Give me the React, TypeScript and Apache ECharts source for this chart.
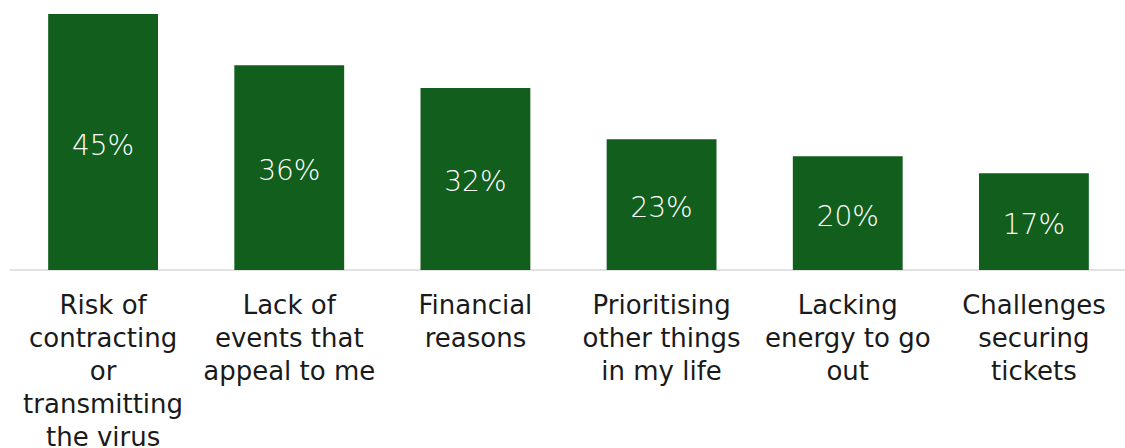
import React, { useEffect, useRef } from "react";
import * as echarts from "echarts";

const categories = [
  "Risk of contracting or transmitting the virus",
  "Lack of events that appeal to me",
  "Financial reasons",
  "Prioritising other things in my life",
  "Lacking energy to go out",
  "Challenges securing tickets",
];
const tickLabels = [
  "Risk of\ncontracting\nor\ntransmitting\nthe virus",
  "Lack of\nevents that\nappeal to me",
  "Financial\nreasons",
  "Prioritising\nother things\nin my life",
  "Lacking\nenergy to go\nout",
  "Challenges\nsecuring\ntickets",
];
const values = [45, 36, 32, 23, 20, 17];

export default function App() {
  const ref = useRef<HTMLDivElement>(null);
  useEffect(() => {
    if (!ref.current) return;
    const chart = echarts.init(ref.current, null, { renderer: "svg" });
    chart.setOption({
      animation: false,
      grid: {
        left: 10,
        width: 1117,
        top: 14,
        height: 256,
        containLabel: false,
        outerBoundsMode: "none",
      },
      xAxis: {
        type: "category",
        data: categories,
        axisLine: { lineStyle: { color: "#d9d9d9", width: 1.5 } },
        axisTick: { show: false },
        axisLabel: {
          interval: 0,
          margin: 18,
          color: "#1a1a1a",
          fontFamily: "DejaVu Sans",
          fontSize: 26,
          lineHeight: 33,
          formatter: (_v: string, i: number) => tickLabels[i],
        },
      },
      yAxis: {
        type: "value",
        min: 0,
        max: 45,
        show: false,
        splitLine: { show: false },
      },
      series: [
        {
          type: "bar",
          data: values,
          barCategoryGap: "41%",
          itemStyle: { color: "#125e1c" },
          label: {
            show: true,
            position: "inside",
            offset: [0, 3],
            color: "#ffffff",
            fontFamily: "DejaVu Sans",
            fontWeight: 300,
            fontSize: 28,
            formatter: (p: any) => p.value + "%",
          },
        },
      ],
    });
    return () => chart.dispose();
  }, []);
  return (
    <div
      ref={ref}
      style={{ position: "absolute", left: 0, top: 0, width: 1125, height: 448, background: "#fff" }}
    />
  );
}
